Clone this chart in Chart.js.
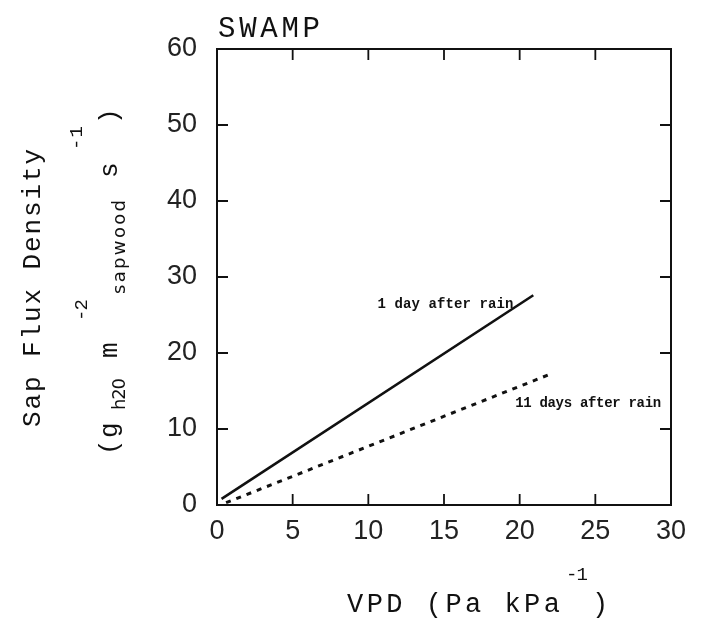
<!DOCTYPE html>
<html>
<head>
<meta charset="utf-8">
<script src="https://cdn.jsdelivr.net/npm/chart.js@4.4.1/dist/chart.umd.min.js"></script>
<style>
  html, body { margin: 0; padding: 0; background: #fff; }
  #wrap { width: 705px; height: 624px; }
</style>
</head>
<body>
<div id="wrap"><canvas id="swampChart"></canvas></div>
<script>
// values (VPD in Pa kPa-1, sap flux density)
const vpdOneDay = [0.3, 20.9];
const fluxOneDay = [0.8, 27.6];
const vpdElevenDays = [0.6, 22.0];
const fluxElevenDays = [0.3, 17.2];
const xTicks = [0, 5, 10, 15, 20, 25, 30];
const yTicks = [0, 10, 20, 30, 40, 50, 60];
const seriesNames = ['1 day after rain', '11 days after rain'];

const MONO = '"Liberation Mono", "DejaVu Sans Mono", monospace';
const SANS = '"DejaVu Sans", "Liberation Sans", sans-serif';
const INK = '#111';

// draw text char by char, spread out so it fills `span` px (typewriter look)
function spaced(ctx, text, x, y, span) {
  const chars = [...text];
  const widths = chars.map(c => ctx.measureText(c).width);
  const natural = widths.reduce((s, w) => s + w, 0);
  const gap = span && chars.length > 1 ? (span - natural) / (chars.length - 1) : 0;
  chars.forEach((c, i) => {
    ctx.fillText(c, x, y);
    x += widths[i] + gap;
  });
}

// runs: [text, font, span, start along reading direction, baseline shift]
function drawRuns(ctx, runs, base, rotated) {
  runs.forEach(r => {
    ctx.save();
    ctx.font = r[1];
    if (rotated) {
      ctx.translate(base, r[3]);
      ctx.rotate(-Math.PI / 2);
      spaced(ctx, r[0], 0, r[4], r[2]);
    } else {
      spaced(ctx, r[0], r[3], base + r[4], r[2]);
    }
    ctx.restore();
  });
}

const frameAndText = {
  id: 'frameAndText',
  afterDatasetsDraw(chart) {
    const { ctx, chartArea: a, scales: { x, y } } = chart;
    ctx.save();
    ctx.strokeStyle = INK;
    ctx.lineWidth = 2;
    ctx.strokeRect(a.left, a.top, a.right - a.left, a.bottom - a.top);

    // tick marks point inward on all four sides
    ctx.lineWidth = 1.8;
    ctx.beginPath();
    x.ticks.forEach(t => {
      if (t.value <= x.min || t.value >= x.max) return;
      const px = x.getPixelForValue(t.value);
      ctx.moveTo(px, a.bottom); ctx.lineTo(px, a.bottom - 11);
      ctx.moveTo(px, a.top); ctx.lineTo(px, a.top + 11);
    });
    y.ticks.forEach(t => {
      if (t.value <= y.min || t.value >= y.max) return;
      const py = y.getPixelForValue(t.value);
      ctx.moveTo(a.left, py); ctx.lineTo(a.left + 11, py);
      ctx.moveTo(a.right, py); ctx.lineTo(a.right - 11, py);
    });
    ctx.stroke();

    ctx.fillStyle = INK;
    ctx.textAlign = 'left';

    // series labels
    ctx.font = 'bold 14px ' + MONO;
    ctx.textBaseline = 'middle';
    spaced(ctx, seriesNames[0], x.getPixelForValue(10.6), y.getPixelForValue(26.4), 136);
    spaced(ctx, seriesNames[1], x.getPixelForValue(19.7), y.getPixelForValue(13.4), 146);
    ctx.textBaseline = 'alphabetic';

    // panel title
    ctx.font = '29px ' + MONO;
    spaced(ctx, 'SWAMP', 218, 37, 102);

    // x axis title with superscript
    drawRuns(ctx, [
      ['VPD (Pa kPa', '27px ' + MONO, 213, 347, 0],
      ['-1', '19px ' + MONO, 22, 566, -32],
      [')', '27px ' + MONO, 0, 592, 0]
    ], 612, false);

    // y axis title, two rotated lines
    drawRuns(ctx, [
      ['Sap Flux Density', '26px ' + MONO, 278, 427, 0]
    ], 40, true);
    drawRuns(ctx, [
      ['(', '26px ' + MONO, 0, 455, 0],
      ['g', '26px ' + MONO, 0, 438, 0],
      ['h20', '18px ' + SANS, 32, 410, 8],
      ['m', '26px ' + MONO, 0, 358, 0],
      ['-2', '19px ' + MONO, 22, 321, -30],
      ['sapwood', '18px ' + SANS, 94, 294, 8],
      ['s', '26px ' + MONO, 0, 178, 0],
      ['-1', '19px ' + MONO, 24, 150, -35],
      [')', '26px ' + MONO, 0, 124, 0]
    ], 117, true);

    ctx.restore();
  }
};

const toPoints = (xs, ys) => xs.map((v, i) => ({ x: v, y: ys[i] }));

new Chart(document.getElementById('swampChart'), {
  type: 'scatter',
  data: {
    datasets: [
      {
        label: seriesNames[0],
        data: toPoints(vpdOneDay, fluxOneDay),
        showLine: true,
        borderColor: INK,
        borderWidth: 2.6,
        pointRadius: 0,
        fill: false
      },
      {
        label: seriesNames[1],
        data: toPoints(vpdElevenDays, fluxElevenDays),
        showLine: true,
        borderColor: INK,
        borderWidth: 3,
        borderDash: [5, 6],
        pointRadius: 0,
        fill: false
      }
    ]
  },
  options: {
    responsive: true,
    maintainAspectRatio: false,
    animation: false,
    layout: { padding: { top: 49, right: 34, left: 0, bottom: 0 } },
    plugins: {
      legend: { display: false },
      tooltip: { enabled: false }
    },
    scales: {
      x: {
        type: 'linear',
        min: 0,
        max: 30,
        afterBuildTicks: s => { s.ticks = xTicks.map(v => ({ value: v })); },
        afterFit: s => { s.height = 119; },
        grid: { display: false, drawTicks: false },
        border: { display: false },
        ticks: {
          padding: 10,
          color: '#222',
          font: { family: '"Liberation Sans", Arial, sans-serif', size: 27 }
        }
      },
      y: {
        type: 'linear',
        min: 0,
        max: 60,
        afterBuildTicks: s => { s.ticks = yTicks.map(v => ({ value: v })); },
        afterFit: s => { s.width = 217; },
        grid: { display: false, drawTicks: false },
        border: { display: false },
        ticks: {
          padding: 20,
          color: '#222',
          font: { family: '"Liberation Sans", Arial, sans-serif', size: 27 }
        }
      }
    }
  },
  plugins: [frameAndText]
});
</script>
</body>
</html>
